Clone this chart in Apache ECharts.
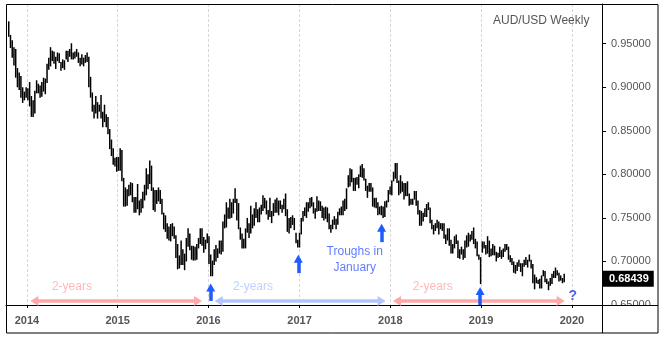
<!DOCTYPE html>
<html><head><meta charset="utf-8">
<script src="https://cdn.jsdelivr.net/npm/echarts@6/dist/echarts.min.js"></script>
<style>html,body{margin:0;padding:0;background:#fff}#c{width:665px;height:338px}</style>
</head><body><div id="c"></div>
<script>
// ---- data ----
const firstWeek = '2013-10-20'; // weekly bars, one per week from this date
const highs = [
// 2013
0.9757,0.9600,0.9540,0.9460,0.9440,0.9220,0.9170,0.9130,0.9000,0.8950,0.9000,
// 2014
0.8990,0.9060,0.8900,0.8850,0.8960,0.9080,0.9040,0.9020,0.9060,0.9110,0.9100,0.9270,0.9340,
0.9460,0.9420,0.9410,0.9350,0.9400,0.9390,0.9290,0.9320,0.9310,0.9420,0.9420,0.9440,0.9505,
0.9400,0.9410,0.9440,0.9400,0.9340,0.9380,0.9340,0.9370,0.9400,0.9350,0.9120,0.8940,0.8800,
0.8900,0.8830,0.8800,0.8910,0.8720,0.8800,0.8690,0.8660,0.8520,0.8400,0.8300,0.8190,0.8200,
// 2015
0.8200,0.8300,0.8280,0.7960,0.7850,0.7830,0.7880,0.7910,0.7900,0.7740,0.7740,0.7890,0.7700,
0.7720,0.7800,0.7880,0.8070,0.8000,0.8160,0.8100,0.7850,0.7820,0.7820,0.7850,0.7820,0.7720,
0.7560,0.7530,0.7440,0.7400,0.7430,0.7440,0.7400,0.7300,0.7200,0.7070,0.7240,0.7140,0.7090,
0.7270,0.7380,0.7320,0.7180,0.7180,0.7170,0.7200,0.7270,0.7380,0.7380,0.7280,0.7250,0.7320,
// 2016
0.7290,0.7080,0.7010,0.7140,0.7190,0.7150,0.7240,0.7240,0.7460,0.7540,0.7680,0.7620,0.7720,
0.7680,0.7720,0.7840,0.7720,0.7670,0.7390,0.7320,0.7260,0.7380,0.7500,0.7440,0.7640,0.7540,
0.7610,0.7680,0.7600,0.7620,0.7650,0.7760,0.7730,0.7700,0.7590,0.7730,0.7580,0.7670,0.7710,
0.7730,0.7700,0.7700,0.7650,0.7720,0.7780,0.7600,0.7500,0.7510,0.7530,0.7500,0.7330,0.7250,
// 2017
0.7330,0.7500,0.7580,0.7620,0.7680,0.7680,0.7730,0.7740,0.7680,0.7610,0.7750,0.7700,0.7690,
0.7640,0.7620,0.7630,0.7620,0.7550,0.7420,0.7480,0.7520,0.7490,0.7570,0.7610,0.7630,0.7700,
0.7720,0.7840,0.7990,0.8070,0.8060,0.7960,0.7960,0.7970,0.8000,0.8100,0.8120,0.8070,0.7950,
0.7870,0.7900,0.7900,0.7850,0.7730,0.7730,0.7680,0.7630,0.7640,0.7630,0.7690,0.7700,0.7820,
// 2018
0.7860,0.7930,0.8030,0.8130,0.8130,0.7930,0.7990,0.7920,0.7900,0.7900,0.7920,0.7780,0.7720,
0.7720,0.7810,0.7810,0.7700,0.7590,0.7580,0.7560,0.7610,0.7660,0.7680,0.7620,0.7480,0.7420,
0.7440,0.7480,0.7460,0.7440,0.7440,0.7440,0.7310,0.7380,0.7380,0.7250,0.7200,0.7290,0.7310,
0.7240,0.7140,0.7170,0.7140,0.7240,0.7300,0.7330,0.7310,0.7350,0.7390,0.7260,0.7230,0.7080,0.7050,
// 2019
0.7230,0.7230,0.7190,0.7290,0.7240,0.7150,0.7200,0.7180,0.7110,0.7100,0.7170,0.7130,
0.7150,0.7200,0.7200,0.7170,0.7070,0.7040,0.7000,0.6960,0.6990,0.7020,0.6980,0.6980,0.7020,
0.7050,0.7020,0.7080,0.7020,0.6970,0.6850,0.6820,0.6790,0.6800,0.6840,0.6900,0.6890,0.6800,
0.6770,0.6810,0.6860,0.6890,0.6930,0.6900,0.6870,0.6840,0.6810,0.6860
];
const lows = [
// 2013
0.9580,0.9450,0.9340,0.9250,0.9110,0.9000,0.8970,0.8880,0.8820,0.8850,0.8880,
// 2014
0.8850,0.8780,0.8660,0.8660,0.8700,0.8930,0.8930,0.8880,0.8890,0.8950,0.8920,0.9050,0.9200,
0.9240,0.9300,0.9270,0.9210,0.9300,0.9280,0.9190,0.9220,0.9200,0.9320,0.9290,0.9350,0.9320,
0.9320,0.9330,0.9350,0.9280,0.9240,0.9260,0.9240,0.9280,0.9290,0.9000,0.8880,0.8720,0.8640,
0.8700,0.8640,0.8720,0.8640,0.8540,0.8600,0.8540,0.8460,0.8290,0.8210,0.8110,0.8090,0.8030,
// 2015
0.8040,0.8040,0.7920,0.7630,0.7630,0.7640,0.7750,0.7760,0.7680,0.7560,0.7560,0.7600,0.7530,
0.7560,0.7610,0.7700,0.7760,0.7830,0.7890,0.7810,0.7590,0.7570,0.7660,0.7690,0.7660,0.7540,
0.7370,0.7340,0.7260,0.7240,0.7230,0.7290,0.7260,0.7040,0.6910,0.6920,0.6960,0.6960,0.6900,
0.7000,0.7170,0.7130,0.7020,0.7010,0.7010,0.7020,0.7150,0.7200,0.7180,0.7100,0.7140,0.7210,
// 2016
0.6970,0.6830,0.6830,0.6960,0.7000,0.7040,0.7090,0.7080,0.7110,0.7380,0.7390,0.7490,0.7490,
0.7500,0.7550,0.7670,0.7470,0.7370,0.7250,0.7150,0.7150,0.7150,0.7330,0.7270,0.7320,0.7380,
0.7410,0.7500,0.7450,0.7450,0.7540,0.7580,0.7610,0.7540,0.7480,0.7510,0.7440,0.7520,0.7560,
0.7560,0.7530,0.7600,0.7560,0.7600,0.7520,0.7340,0.7320,0.7380,0.7420,0.7360,0.7210,0.7160,
// 2017
0.7160,0.7310,0.7460,0.7520,0.7500,0.7570,0.7610,0.7630,0.7550,0.7490,0.7570,0.7580,0.7580,
0.7500,0.7470,0.7490,0.7450,0.7370,0.7330,0.7370,0.7420,0.7370,0.7420,0.7530,0.7530,0.7530,
0.7580,0.7600,0.7850,0.7860,0.7910,0.7810,0.7810,0.7880,0.7840,0.7970,0.7960,0.7930,0.7810,
0.7730,0.7800,0.7800,0.7630,0.7620,0.7610,0.7530,0.7540,0.7530,0.7500,0.7510,0.7620,0.7680,
// 2018
0.7770,0.7760,0.7920,0.7950,0.7900,0.7760,0.7780,0.7800,0.7710,0.7750,0.7750,0.7640,0.7650,
0.7650,0.7710,0.7640,0.7540,0.7410,0.7410,0.7460,0.7510,0.7510,0.7590,0.7440,0.7370,0.7310,
0.7350,0.7380,0.7310,0.7370,0.7350,0.7260,0.7200,0.7240,0.7180,0.7090,0.7090,0.7150,0.7200,
0.7040,0.7030,0.7080,0.7020,0.7040,0.7160,0.7170,0.7230,0.7250,0.7200,0.7150,0.7060,0.7020,0.6740,
// 2019
0.7100,0.7150,0.7080,0.7090,0.7050,0.7060,0.7070,0.7070,0.7000,0.7040,0.7050,0.7030,
0.7050,0.7110,0.7130,0.7020,0.6990,0.6960,0.6870,0.6860,0.6890,0.6940,0.6880,0.6830,0.6940,
0.6960,0.6930,0.7000,0.6920,0.6750,0.6680,0.6750,0.6740,0.6690,0.6690,0.6830,0.6760,0.6740,
0.6670,0.6720,0.6740,0.6810,0.6810,0.6840,0.6770,0.6780,0.6750,0.6760
];
const lastPrice = 0.68439;
const yTicks = [0.65, 0.70, 0.75, 0.80, 0.85, 0.90, 0.95];

// annotation arrows: [fromDate, toDate, price]
const pinkSpans = [['2014-01-31', '2015-11-20', 0.6545], ['2018-01-28', '2019-11-17', 0.6545]];
const blueSpans = [['2016-02-11', '2017-11-27', 0.6545]];
// up arrows: [date, fromPrice, toPrice]
const upArrows = [
  ['2016-01-10', 0.6547, 0.6702],
  ['2016-12-27', 0.6866, 0.7032],
  ['2017-11-27', 0.7222, 0.7387],
  ['2018-12-28', 0.6500, 0.6660]
];
// texts: [date, price, text, colour key]
const notes = [
  ['2014-07-01', 0.6705, '2-years', 'pink'],
  ['2016-06-28', 0.6705, '2-years', 'lblue'],
  ['2018-06-21', 0.6705, '2-years', 'pink'],
  ['2017-08-11', 0.7024, 'Troughs in\nJanuary', 'blue'],
  ['2020-01-05', 0.6599, '?', 'q']
];

// ---- chart ----
const t = s => new Date(s + 'T00:00:00Z').getTime();
const WEEK = 7 * 24 * 3600 * 1000;
const start = t(firstWeek);
const bars = highs.map((h, i) => [start + i * WEEK, lows[i], h]);

const COL = {pink: '#ffa8a8', lblue: '#b2c5ff', blue: '#3a5bff', q: '#2a3de0', arrow: '#1f5cff'};
const FONT = 'Liberation Sans, Arial, sans-serif';

const chart = echarts.init(document.getElementById('c'), null, {renderer: 'canvas'});
chart.setOption({
  animation: false,
  useUTC: true,
  textStyle: {fontFamily: FONT},
  title: {text: 'AUD/USD Weekly', left: 493, top: 15, padding: 0,
    textStyle: {fontSize: 12, fontWeight: 'normal', color: '#555', fontFamily: FONT}},
  grid: {left: 6, right: 63, top: 4, bottom: 33, show: false},
  xAxis: {
    type: 'time', min: t('2013-10-09'), max: t('2020-05-01'),
    minInterval: 365 * 24 * 3600 * 1000, maxInterval: 366 * 24 * 3600 * 1000,
    axisLine: {show: true, lineStyle: {color: '#000', width: 1}},
    axisTick: {show: true, length: 3, lineStyle: {color: '#000'}},
    axisLabel: {color: '#555', fontSize: 11, fontWeight: 'bold', margin: 10, fontFamily: FONT,
      formatter: v => String(new Date(v).getUTCFullYear())},
    splitLine: {show: true, lineStyle: {color: '#d6d6dc', type: [3, 2], width: 1}}
  },
  yAxis: {
    type: 'value', position: 'right', min: 0.65, max: 0.9956, interval: 0.05,
    axisLine: {show: true, lineStyle: {color: '#000', width: 1}},
    axisTick: {show: true, length: 4, lineStyle: {color: '#000'}},
    axisLabel: {color: '#555', fontSize: 11, margin: 9, fontFamily: FONT, showMaxLabel: false,
      formatter: v => yTicks.some(k => Math.abs(k - v) < 1e-9) ? v.toFixed(5) : ''},
    splitLine: {show: false}
  },
  series: [
    {
      type: 'custom', data: bars, encode: {x: 0, y: [1, 2]}, clip: true,
      renderItem: function (params, api) {
        const top = api.coord([api.value(0), api.value(2)]);
        const bot = api.coord([api.value(0), api.value(1)]);
        return {type: 'rect', shape: {x: top[0] - 0.75, y: top[1], width: 1.5, height: Math.max(1, bot[1] - top[1])},
          style: {fill: '#000'}};
      }
    },
    {
      type: 'line', data: [], silent: true, zlevel: 2,
      markLine: {
        silent: true, animation: false, symbol: 'none',
        lineStyle: {color: 'rgba(0,0,0,0)', width: 0},
        label: {show: true, position: 'end', distance: 1, formatter: () => lastPrice.toFixed(5),
          backgroundColor: '#000', color: '#fff', fontSize: 11, fontWeight: 'bold', fontFamily: FONT,
          padding: [3, 5, 2, 6], opacity: 1},
        data: [{yAxis: lastPrice}]
      }
    },
    {
      type: 'line', data: [], silent: true,
      markLine: {
        silent: true, animation: false, symbol: ['triangle', 'triangle'], symbolSize: [10, 8],
        lineStyle: {color: COL.pink, width: 3.5, type: 'solid'}, label: {show: false},
        emphasis: {disabled: true},
        data: pinkSpans.map(s => [{coord: [t(s[0]), s[2]]}, {coord: [t(s[1]), s[2]]}])
      }
    },
    {
      type: 'line', data: [], silent: true,
      markLine: {
        silent: true, animation: false, symbol: ['triangle', 'triangle'], symbolSize: [10, 8],
        lineStyle: {color: COL.lblue, width: 3.5, type: 'solid'}, label: {show: false},
        emphasis: {disabled: true},
        data: blueSpans.map(s => [{coord: [t(s[0]), s[2]]}, {coord: [t(s[1]), s[2]]}])
      }
    },
    {
      type: 'line', data: [], silent: true,
      markLine: {
        silent: true, animation: false, symbol: ['none', 'triangle'], symbolSize: [9, 8],
        lineStyle: {color: COL.arrow, width: 3.5, type: 'solid'}, label: {show: false},
        emphasis: {disabled: true},
        data: upArrows.map(a => [{coord: [t(a[0]), a[1]]}, {coord: [t(a[0]), a[2]]}])
      }
    },
    {
      type: 'scatter', silent: true, symbolSize: 1, itemStyle: {color: 'rgba(0,0,0,0)'},
      data: notes.map(n => ({value: [t(n[0]), n[1]],
        label: {show: true, position: 'inside', formatter: n[2], color: COL[n[3]],
          fontSize: n[3] === 'q' ? 14 : 12, fontWeight: n[3] === 'q' ? 'bold' : 'normal',
          lineHeight: 16, fontFamily: FONT, align: 'center', verticalAlign: 'middle'}}))
    }
  ],
  graphic: [
    {type: 'rect', zlevel: 1, shape: {x: 603, y: 305.5, width: 54.5, height: 27}, style: {fill: '#fff'}},
    {type: 'line', zlevel: 1, shape: {x1: 602, y1: 305.5, x2: 658, y2: 305.5}, style: {stroke: '#000', lineWidth: 1}},
    {type: 'line', zlevel: 1, shape: {x1: 602.5, y1: 305, x2: 602.5, y2: 333}, style: {stroke: '#000', lineWidth: 1}},
    {type: 'rect', zlevel: 1, shape: {x: 6.5, y: 4.5, width: 651.5, height: 328.5}, style: {fill: null, stroke: '#000', lineWidth: 1}}
  ]
});
</script></body></html>
